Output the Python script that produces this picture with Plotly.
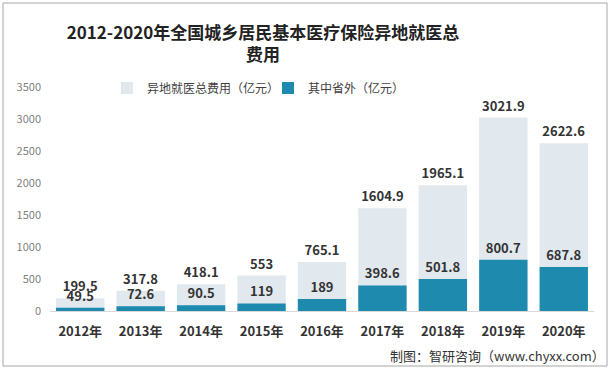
import plotly.graph_objects as go

years = ["2012年", "2013年", "2014年", "2015年", "2016年", "2017年", "2018年", "2019年", "2020年"]
total = [199.5, 317.8, 418.1, 553, 765.1, 1604.9, 1965.1, 3021.9, 2622.6]
outside = [49.5, 72.6, 90.5, 119, 189, 398.6, 501.8, 800.7, 687.8]
total_labels = ["199.5", "317.8", "418.1", "553", "765.1", "1604.9", "1965.1", "3021.9", "2622.6"]
outside_labels = ["49.5", "72.6", "90.5", "119", "189", "398.6", "501.8", "800.7", "687.8"]

FONT = "Noto Sans CJK SC, Microsoft YaHei, sans-serif"
L, R, T, B = 50, 18, 87, 59
W, H = 612, 370
PW, PH = W - L - R, H - T - B

def px(x):
    return (x - L) / PW

def py(y):
    return (H - B - y) / PH

fig = go.Figure()
fig.add_trace(go.Bar(
    x=years, y=total, name="异地就医总费用（亿元）",
    marker=dict(color="#e1e8ee", line=dict(width=0)),
    text=total_labels, textposition="outside",
    textfont=dict(family=FONT, size=13, color="#333333", weight="bold"),
    cliponaxis=False,
))
fig.add_trace(go.Bar(
    x=years, y=outside, name="其中省外（亿元）",
    marker=dict(color="#1d8aae", line=dict(width=0)),
    text=outside_labels, textposition="outside",
    textfont=dict(family=FONT, size=13, color="#333333", weight="bold"),
    cliponaxis=False,
))

fig.update_layout(
    width=W, height=H,
    margin=dict(l=L, r=R, t=T, b=B),
    paper_bgcolor="white", plot_bgcolor="white",
    barmode="overlay", bargap=0.2,
    font=dict(family=FONT, color="#333333"),
    title=dict(
        text="<b>2012-2020年全国城乡居民基本医疗保险异地就医总<br>费用</b>",
        x=263 / W, xanchor="center", y=1 - 39 / H, yanchor="top",
        font=dict(family=FONT, size=17, color="#222222"),
    ),
    showlegend=True,
    legend=dict(
        orientation="h", x=px(107), xanchor="left", y=py(88), yanchor="middle",
        font=dict(family=FONT, size=12, color="#404040"),
        itemwidth=30, entrywidth=116, traceorder="normal", bgcolor="rgba(0,0,0,0)",
    ),
    xaxis=dict(
        showline=True, linecolor="#d9d9d9", linewidth=1, ticks="",
        tickfont=dict(family=FONT, size=13, color="#333333", weight="bold"),
        ticklabelstandoff=8,
    ),
    yaxis=dict(
        range=[0, 3500], tickvals=[0, 500, 1000, 1500, 2000, 2500, 3000, 3500],
        showgrid=False, zeroline=False, showline=False,
        tickfont=dict(family=FONT, size=11, color="#7f7f7f"),
        ticklabelstandoff=8,
    ),
    shapes=[dict(
        type="rect", xref="paper", yref="paper",
        x0=px(3), x1=px(607), y0=py(366), y1=py(3),
        line=dict(color="#a6a6a6", width=1), fillcolor="rgba(0,0,0,0)",
    )],
    annotations=[dict(
        text="制图：智研咨询（www.chyxx.com）", xref="paper", yref="paper",
        x=px(607), y=py(355), xanchor="right", yanchor="middle", showarrow=False,
        font=dict(family=FONT, size=13, color="#333333"),
    )],
)

fig.write_html("out.html", config={"displayModeBar": False},
               post_script="document.body.style.margin='0';document.body.style.padding='0';")
